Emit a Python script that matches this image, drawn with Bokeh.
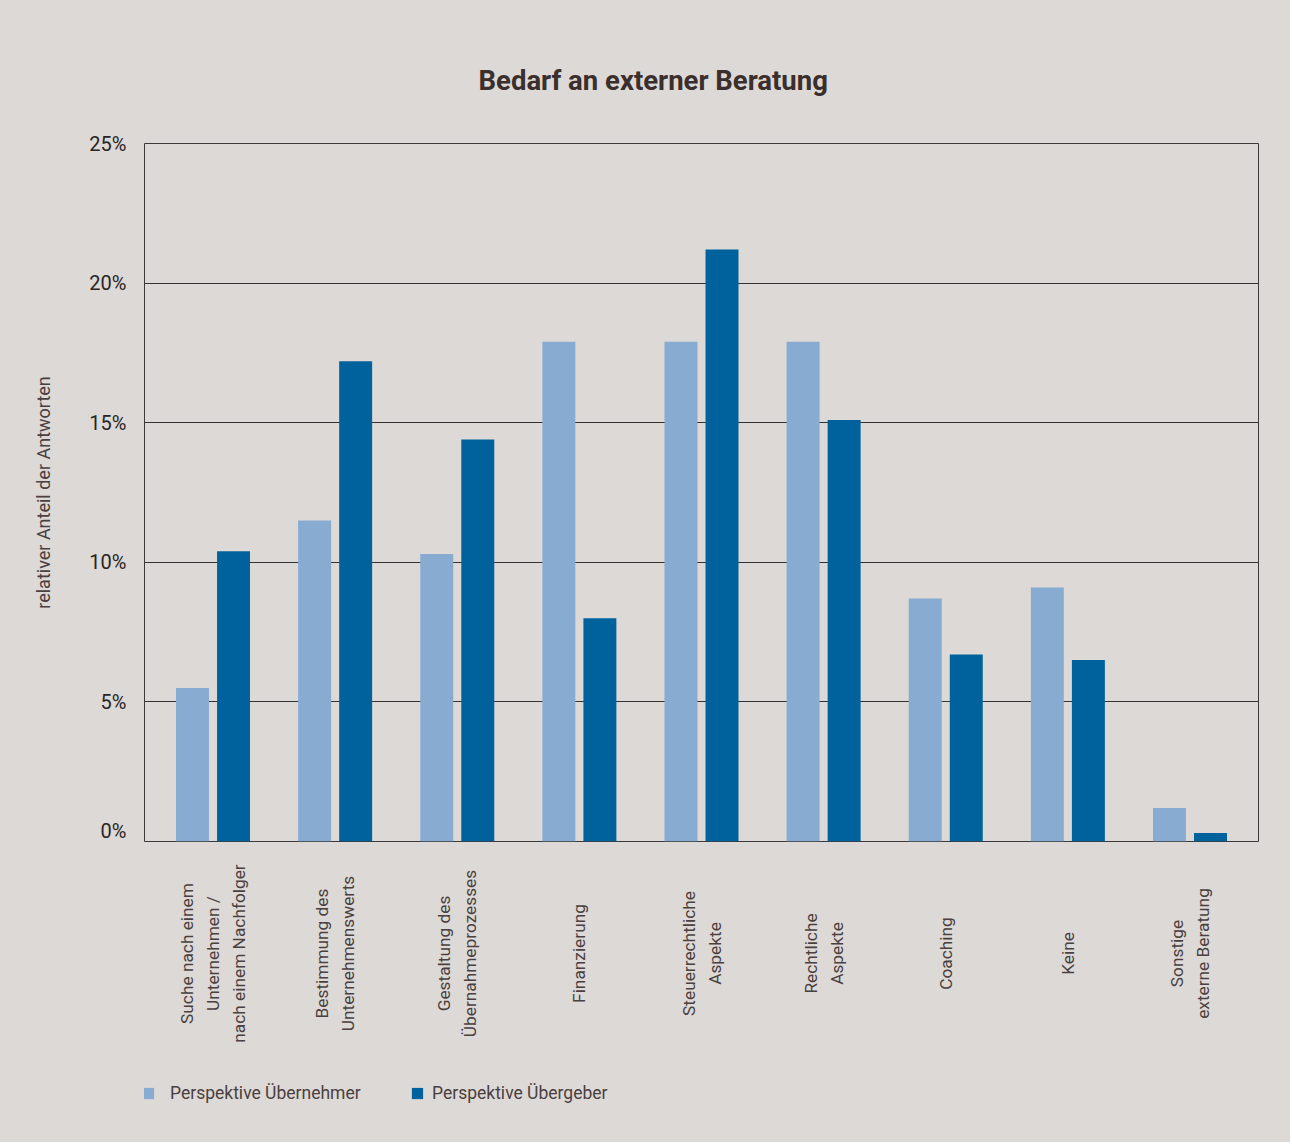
import math
from bokeh.plotting import figure
from bokeh.layouts import column
from bokeh.models import Legend, LegendItem, FixedTicker, PrintfTickFormatter, Range1d, Title
from bokeh.core.properties import value
from bokeh.embed import file_html
from bokeh.resources import INLINE

categories = [
    "Suche nach einem\nUnternehmen /\nnach einem Nachfolger",
    "Bestimmung des\nUnternehmenswerts",
    "Gestaltung des\nÜbernahmeprozesses",
    "Finanzierung",
    "Steuerrechtliche\nAspekte",
    "Rechtliche\nAspekte",
    "Coaching",
    "Keine",
    "Sonstige\nexterne Beratung",
]
uebernehmer = [5.5, 11.5, 10.3, 17.9, 17.9, 17.9, 8.7, 9.1, 1.2]
uebergeber = [10.4, 17.2, 14.4, 8.0, 21.2, 15.1, 6.7, 6.5, 0.3]
y_ticks = [0, 5, 10, 15, 20, 25]
series_names = ["Perspektive Übernehmer", "Perspektive Übergeber"]
title_text = "Bedarf an externer Beratung"
y_label = "relativer Anteil der Antworten"

BG = "#ddd9d6"
LIGHT = "#88acd1"
DARK = "#00629d"
TXT = "#4a4040"
FONT = "Roboto"
W = 1290

xs = list(range(len(categories)))
off = 0.168
bw = 0.27
xr = Range1d(-0.561, len(categories) - 1 + 0.561)

p = figure(width=W, height=842, output_backend="svg", toolbar_location=None,
           x_range=xr, y_range=Range1d(0, 25),
           min_border_left=144, min_border_right=32, min_border_top=143, min_border_bottom=1)
p.background_fill_color = BG
p.border_fill_color = BG
p.outline_line_color = "#3a3a3a"
p.outline_line_width = 1

p.title = Title(text=title_text, align="left", offset=334, standoff=94,
                text_font=FONT, text_font_style="bold", text_font_size="27.5px",
                text_color="#3a2f2d")

p.vbar(x=[x - off for x in xs], top=uebernehmer, width=bw, bottom=0,
       fill_color=LIGHT, line_color=None)
p.vbar(x=[x + off for x in xs], top=uebergeber, width=bw, bottom=0,
       fill_color=DARK, line_color=None)

p.xaxis.visible = False
p.xgrid.grid_line_color = None
p.ygrid.grid_line_color = "#333333"
p.ygrid.grid_line_width = 1
p.ygrid.ticker = FixedTicker(ticks=y_ticks)
p.yaxis.ticker = FixedTicker(ticks=y_ticks)
p.yaxis.formatter = PrintfTickFormatter(format="%d%%")
p.yaxis.axis_line_color = None
p.yaxis.major_tick_line_color = None
p.yaxis.minor_tick_line_color = None
p.yaxis.major_label_standoff = 12
p.yaxis.major_label_text_font = FONT
p.yaxis.major_label_text_font_size = "20px"
p.yaxis.major_label_text_color = "#2a2525"
p.yaxis.axis_label = y_label
p.yaxis.axis_label_standoff = 32
p.yaxis.axis_label_text_font = FONT
p.yaxis.axis_label_text_font_style = "normal"
p.yaxis.axis_label_text_font_size = "18px"
p.yaxis.axis_label_text_color = TXT

# lower panel: category labels and legend (shares the x range; y in px, 0 at top)
H2 = 300
p2 = figure(width=W, height=H2, output_backend="svg", toolbar_location=None,
            x_range=xr, y_range=Range1d(H2, 0),
            min_border_left=144, min_border_right=32, min_border_top=0, min_border_bottom=0)
p2.background_fill_color = BG
p2.border_fill_color = BG
p2.outline_line_color = BG
p2.outline_line_width = 3
p2.axis.visible = False
p2.grid.grid_line_color = None

p2.text(x=xs, y=[111] * len(xs), text=categories, angle=math.pi / 2,
        text_font=value(FONT), text_font_size="17.3px", text_color=TXT,
        text_align="center", text_baseline="middle", text_line_height=1.3)

# legend proxies: zero-height bars, only used for the legend swatches
d1 = p2.vbar(x=[0], top=[0], bottom=[0], width=bw, fill_color=LIGHT, line_color=None)
d2 = p2.vbar(x=[0], top=[0], bottom=[0], width=bw, fill_color=DARK, line_color=None)
for j, (r, name) in enumerate(zip([d1, d2], series_names)):
    lg = Legend(items=[LegendItem(label=name, renderers=[r])],
                location=(-3 if j == 0 else 266, 39),
                glyph_width=14, glyph_height=14, label_standoff=(15 if j == 0 else 8),
                label_text_font=FONT, label_text_font_size="17.5px", label_text_color=TXT,
                label_height=11, padding=0, margin=0, border_line_color=None,
                background_fill_alpha=0)
    p2.add_layout(lg, "center")

layout = column(p, p2, spacing=0, styles={"background-color": BG})
open("out.html", "w").write(file_html(layout, INLINE))
